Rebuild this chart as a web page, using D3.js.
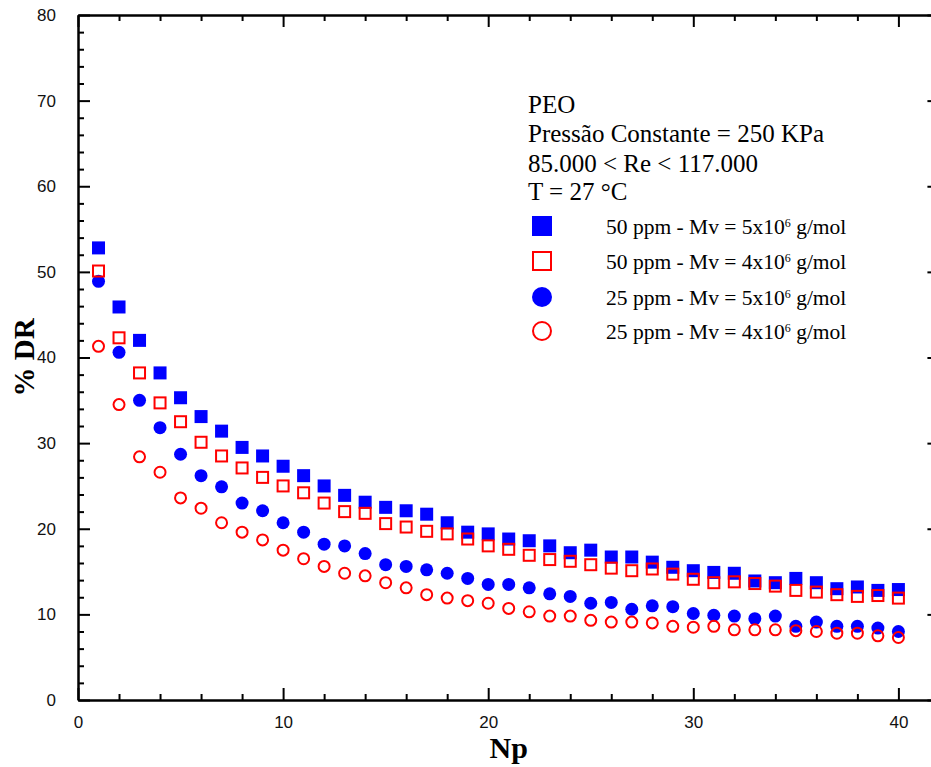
<!DOCTYPE html>
<html>
<head>
<meta charset="utf-8">
<script src="https://cdn.jsdelivr.net/npm/d3@7"></script>
<style>
  html, body { margin: 0; padding: 0; background: #fff; }
  svg { display: block; }
</style>
</head>
<body>
<svg id="chart" width="931" height="767"></svg>
<script>
// Number of passes through the pipe
const np = d3.range(1, 41);

// % drag reduction for each solution
const peo50_5M = [52.8, 45.9, 42.0, 38.2, 35.3, 33.1, 31.4, 29.5, 28.5, 27.3,
                  26.2, 25.0, 23.9, 23.1, 22.5, 22.1, 21.7, 20.7, 19.6, 19.4,
                  18.8, 18.6, 18.0, 17.2, 17.5, 16.7, 16.7, 16.1, 15.5, 15.1,
                  14.9, 14.8, 13.9, 13.7, 14.2, 13.7, 13.0, 13.2, 12.8, 12.9];
const peo50_4M = [50.1, 42.3, 38.2, 34.7, 32.5, 30.1, 28.5, 27.1, 26.0, 25.0,
                  24.2, 23.0, 22.0, 21.8, 20.6, 20.2, 19.7, 19.4, 18.8, 18.0,
                  17.6, 16.9, 16.4, 16.2, 15.8, 15.4, 15.1, 15.3, 14.7, 14.1,
                  13.7, 13.8, 13.6, 13.3, 12.8, 12.6, 12.3, 12.1, 12.2, 11.9];
const peo25_5M = [48.9, 40.6, 35.0, 31.8, 28.7, 26.2, 24.9, 23.0, 22.1, 20.7,
                  19.6, 18.2, 18.0, 17.1, 15.8, 15.6, 15.2, 14.8, 14.2, 13.5,
                  13.5, 13.1, 12.4, 12.1, 11.3, 11.4, 10.6, 11.0, 10.9, 10.1,
                  9.9, 9.8, 9.5, 9.8, 8.6, 9.1, 8.6, 8.6, 8.4, 8.0];
const peo25_4M = [41.3, 34.5, 28.4, 26.6, 23.6, 22.4, 20.7, 19.6, 18.7, 17.5,
                  16.5, 15.6, 14.8, 14.5, 13.7, 13.1, 12.3, 11.9, 11.6, 11.3,
                  10.7, 10.3, 9.8, 9.8, 9.3, 9.1, 9.1, 9.0, 8.6, 8.5,
                  8.6, 8.2, 8.2, 8.2, 8.1, 8.0, 7.8, 7.8, 7.5, 7.3];

const seriesNames = [
  "50 ppm - Mv = 5x10|6| g/mol",
  "50 ppm - Mv = 4x10|6| g/mol",
  "25 ppm - Mv = 5x10|6| g/mol",
  "25 ppm - Mv = 4x10|6| g/mol"
];
const headerLines = ["PEO", "Pressão Constante = 250 KPa", "85.000 < Re < 117.000", "T = 27 °C"];

const xTicks = [0, 10, 20, 30, 40];
const yTicks = [0, 10, 20, 30, 40, 50, 60, 70, 80];

const BLUE = "#0000ff", RED = "#ff0000";
const styles = [
  { shape: "square", fill: BLUE, stroke: "none" },
  { shape: "square", fill: "none", stroke: RED },
  { shape: "circle", fill: BLUE, stroke: "none" },
  { shape: "circle", fill: "none", stroke: RED }
];
const allSeries = [peo50_5M, peo50_4M, peo25_5M, peo25_4M];

const svg = d3.select("#chart");
const plotLeft = 78, plotTop = 15, plotBottom = 700;
const x = d3.scaleLinear().domain([0, 42]).range([plotLeft, plotLeft + 42 * 20.51]);
const y = d3.scaleLinear().domain([0, 80]).range([plotBottom, plotTop]);
const plotRight = x(42);

const tickFont = "'Liberation Sans', Arial, sans-serif";
const serif = "'Liberation Serif', 'Times New Roman', serif";

// Axes: major ticks inside with labels, minor ticks every 2 units, mirrored on top/right
function styleAxis(g) {
  g.select(".domain").attr("stroke", "#000").attr("stroke-width", 2.5);
  g.selectAll(".tick line").attr("stroke", "#000").attr("stroke-width", 2);
}
function styleMinor(g) {
  g.select(".domain").remove();
  g.selectAll("line").attr("stroke", "#000").attr("stroke-width", 2);
}
const minorX = d3.range(0, 43, 2).filter(v => v % 10 !== 0);
const minorY = d3.range(0, 81, 2).filter(v => v % 10 !== 0);

// bottom
const gx = svg.append("g").attr("transform", `translate(0,${plotBottom})`)
  .call(d3.axisBottom(x).tickValues(xTicks).tickSizeInner(-12).tickSizeOuter(0).tickPadding(16));
styleAxis(gx);
gx.selectAll(".tick text").attr("font-family", tickFont).attr("font-size", 17).attr("fill", "#111");
svg.append("g").attr("transform", `translate(0,${plotBottom})`)
  .call(d3.axisBottom(x).tickValues(minorX).tickSize(-6).tickFormat("")).call(styleMinor);

// top
const gt = svg.append("g").attr("transform", `translate(0,${plotTop})`)
  .call(d3.axisTop(x).tickValues(xTicks).tickSizeInner(-12).tickSizeOuter(0).tickFormat(""));
styleAxis(gt);
svg.append("g").attr("transform", `translate(0,${plotTop})`)
  .call(d3.axisTop(x).tickValues(minorX).tickSize(-6).tickFormat("")).call(styleMinor);

// left
const gy = svg.append("g").attr("transform", `translate(${plotLeft},0)`)
  .call(d3.axisLeft(y).tickValues(yTicks).tickSizeInner(-12).tickSizeOuter(0).tickPadding(22));
styleAxis(gy);
gy.selectAll(".tick text").attr("font-family", tickFont).attr("font-size", 17).attr("fill", "#111");
svg.append("g").attr("transform", `translate(${plotLeft},0)`)
  .call(d3.axisLeft(y).tickValues(minorY).tickSize(-6).tickFormat("")).call(styleMinor);

// right
const gr = svg.append("g").attr("transform", `translate(${plotRight},0)`)
  .call(d3.axisRight(y).tickValues(yTicks).tickSizeInner(-12).tickSizeOuter(0).tickFormat(""));
styleAxis(gr);
svg.append("g").attr("transform", `translate(${plotRight},0)`)
  .call(d3.axisRight(y).tickValues(minorY).tickSize(-6).tickFormat("")).call(styleMinor);

// Axis titles
svg.append("text")
  .attr("x", (plotLeft + plotRight) / 2).attr("y", 758)
  .attr("text-anchor", "middle")
  .attr("font-family", serif).attr("font-weight", "bold").attr("font-size", 30)
  .text("Np");
svg.append("text")
  .attr("transform", `translate(34,${(plotTop + plotBottom) / 2}) rotate(-90)`)
  .attr("text-anchor", "middle")
  .attr("font-family", serif).attr("font-weight", "bold").attr("font-size", 29)
  .text("% DR");

// Marker drawing
function drawMarker(sel, st, size) {
  const sw = st.stroke === "none" ? 0 : 2;
  if (st.shape === "square") {
    const s = st.stroke === "none" ? size : size - sw;
    sel.append("rect")
      .attr("x", -s / 2).attr("y", -s / 2).attr("width", s).attr("height", s)
      .attr("fill", st.fill).attr("stroke", st.stroke).attr("stroke-width", sw);
  } else {
    const r = st.stroke === "none" ? size / 2 : (size - sw) / 2;
    sel.append("circle").attr("r", r)
      .attr("fill", st.fill).attr("stroke", st.stroke).attr("stroke-width", sw);
  }
}

// Data points (open red markers on top of filled blue ones)
const order = [0, 2, 1, 3];
order.forEach(i => {
  const st = styles[i];
  const g = svg.append("g").attr("class", "series-" + i);
  np.forEach((n, k) => {
    const m = g.append("g").attr("transform", `translate(${x(n)},${y(allSeries[i][k])})`);
    drawMarker(m, st, 13);
  });
});

// Annotation block and legend
const hdr = svg.append("g").attr("font-family", serif).attr("font-size", 25).attr("fill", "#000");
const hdrY = [113, 142, 172, 200];
headerLines.forEach((t, i) => hdr.append("text").attr("x", 528).attr("y", hdrY[i]).text(t));

const legY = [226, 261, 297, 331];
seriesNames.forEach((name, i) => {
  const g = svg.append("g").attr("transform", `translate(542,${legY[i]})`);
  drawMarker(g, styles[i], 20);
  const [pre, sup, post] = name.split("|");
  const t = svg.append("text").attr("x", 606).attr("y", legY[i] + 8)
    .attr("font-family", serif).attr("font-size", 21.5).attr("fill", "#000");
  t.append("tspan").text(pre);
  t.append("tspan").attr("font-size", 12).attr("dy", -7).text(sup);
  t.append("tspan").attr("dy", 7).text(" " + post);
});
</script>
</body>
</html>
